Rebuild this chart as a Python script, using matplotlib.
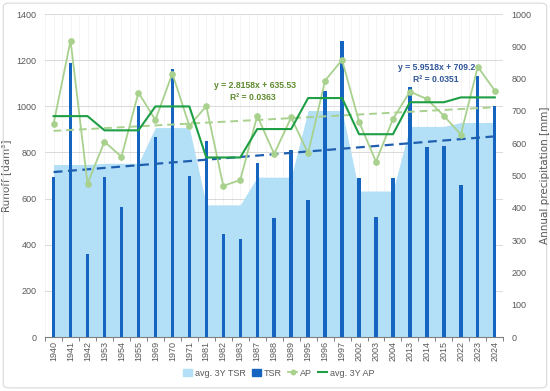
import matplotlib
matplotlib.use("Agg")
import matplotlib.pyplot as plt
import numpy as np
from matplotlib.patches import Patch, FancyBboxPatch
from matplotlib.lines import Line2D

years = ["1940", "1941", "1942", "1953", "1954", "1955", "1969", "1970", "1971",
         "1981", "1982", "1983", "1987", "1988", "1989", "1995", "1996", "1997",
         "2002", "2003", "2004", "2013", "2014", "2015", "2022", "2023", "2024"]
tsr = [695, 1190, 360, 695, 565, 1000, 865, 1160, 700,
       850, 445, 425, 755, 515, 810, 595, 1065, 1285,
       688, 520, 690, 1085, 825, 830, 660, 1130, 1000]
avg_tsr = [748, 748, 748, 753, 753, 753, 908, 908, 908,
           573, 573, 573, 693, 693, 693, 982, 982, 982,
           633, 633, 633, 913, 913, 913, 930, 930, 930]
ap = [660, 918, 475, 605, 558, 757, 672, 816, 654,
      715, 468, 486, 685, 567, 680, 569, 794, 858,
      667, 543, 675, 760, 737, 685, 627, 837, 763]
avg_ap = [684, 684, 684, 640, 640, 640, 714, 714, 714,
          556, 556, 556, 644, 644, 644, 740, 740, 740,
          628, 628, 628, 727, 727, 727, 742, 742, 742]
tsr_trend = (5.9518, 709.2)
ap_trend = (2.8158, 635.53)
tsr_eq = ["y = 5.9518x + 709.2", "R² = 0.0351"]
ap_eq = ["y = 2.8158x + 635.53", "R² = 0.0363"]

FONT = "Liberation Sans"
tick_col = "#595959"
c_area = "#B3E0F6"
c_bar = "#1565C0"
c_ap = "#A9D18E"
c_avgap = "#1E9E45"
c_trend_b = "#1F5FB0"

fig = plt.figure(figsize=(5.5, 3.91), dpi=100)
fig.patch.set_facecolor("white")
ax = fig.add_axes([0.082, 0.138, 0.833, 0.826])
ax2 = ax.twinx()

x = np.arange(len(years))
ax.fill_between(x, avg_tsr, 0, color=c_area, linewidth=0, zorder=2)
ax.bar(x, tsr, width=0.2, color=c_bar, zorder=3)
xt = x + 1
ax.plot(x, tsr_trend[0] * xt + tsr_trend[1], ls=(0, (4, 2.5)), color=c_trend_b, lw=1.6, zorder=4)

ax.set_xlim(-0.5, len(years) - 0.5)
ax.set_ylim(0, 1400)
ax.set_yticks(np.arange(0, 1401, 200))
ax2.set_ylim(0, 1000)
ax2.set_yticks(np.arange(0, 1001, 100))

for yv in np.arange(200, 1401, 200):
    ax.axhline(yv, color="#D9D9D9", lw=0.7, zorder=1)
for xv in np.arange(-0.5, len(years), 0.5):
    ax.axvline(xv, color="#F0F0F0", lw=0.5, zorder=0.5)

ax2.plot(x, ap_trend[0] * xt + ap_trend[1], ls=(0, (4, 2.5)), color=c_ap, lw=1.4, zorder=4)
ax2.plot(x, ap, color=c_ap, lw=1.3, marker="o", ms=3.8, zorder=5)
ax2.plot(x, avg_ap, color=c_avgap, lw=1.5, zorder=6)

ax.set_xticks(x)
ax.set_xticklabels(years, rotation=90, fontsize=6.5, color=tick_col, family=FONT)
ax.set_xticks(np.arange(-0.5, len(years), 1), minor=True)
ax.tick_params(axis="x", which="major", length=0, pad=3)
ax.tick_params(axis="x", which="minor", length=3, color="#7F7F7F", width=0.7)
ax.tick_params(axis="y", length=0, labelsize=6.5, labelcolor=tick_col, pad=6)
ax2.tick_params(axis="y", length=0, labelsize=6.5, labelcolor=tick_col, pad=6)
for lab in ax.get_yticklabels() + ax2.get_yticklabels():
    lab.set_family(FONT)

for a in (ax, ax2):
    for s in ("top", "right", "left"):
        a.spines[s].set_visible(False)
    a.spines["bottom"].set_color("#7F7F7F")
    a.spines["bottom"].set_linewidth(0.8)
ax2.spines["bottom"].set_visible(False)
ax.set_zorder(1)
ax2.set_zorder(2)
ax.patch.set_visible(False)
ax2.patch.set_visible(False)

ax.set_ylabel("Runoff [dam³]", fontsize=7.5, color=tick_col, labelpad=4)
ax2.set_ylabel("Annual precipitation [mm]", fontsize=7.5, color=tick_col, labelpad=6)

eq_fs = 6.2
fig.text(255 / 550, 1 - 85 / 391, ap_eq[0], ha="center", va="center", fontsize=eq_fs,
         color="#5E8A2C", weight="bold", family=FONT)
fig.text(253 / 550, 1 - 98 / 391, ap_eq[1], ha="center", va="center", fontsize=eq_fs,
         color="#5E8A2C", weight="bold", family=FONT)
fig.text(437 / 550, 1 - 67 / 391, tsr_eq[0], ha="center", va="center", fontsize=eq_fs,
         color="#2F5597", weight="bold", family=FONT)
fig.text(436 / 550, 1 - 80 / 391, tsr_eq[1], ha="center", va="center", fontsize=eq_fs,
         color="#2F5597", weight="bold", family=FONT)

handles = [Patch(color=c_area, label="avg. 3Y TSR"),
           Patch(color=c_bar, label="TSR"),
           Line2D([], [], color=c_ap, marker="o", ms=3.2, lw=1.3, label="AP"),
           Line2D([], [], color=c_avgap, lw=1.5, label="avg. 3Y AP")]
fig.legend(handles=handles, loc="center", bbox_to_anchor=(279 / 550, 1 - 373 / 391), ncol=4,
           frameon=False, prop={"family": FONT, "size": 6.5}, labelcolor=tick_col,
           handlelength=1.0, handletextpad=0.3, columnspacing=0.7, handleheight=0.9)

border = FancyBboxPatch((0.006, 0.008), 0.988, 0.984, boxstyle="round,pad=0,rounding_size=0.01",
                        transform=fig.transFigure, fill=False, edgecolor="#D9D9D9", lw=0.8)
fig.patches.append(border)

fig.savefig("out.png", dpi=100, facecolor="white")
